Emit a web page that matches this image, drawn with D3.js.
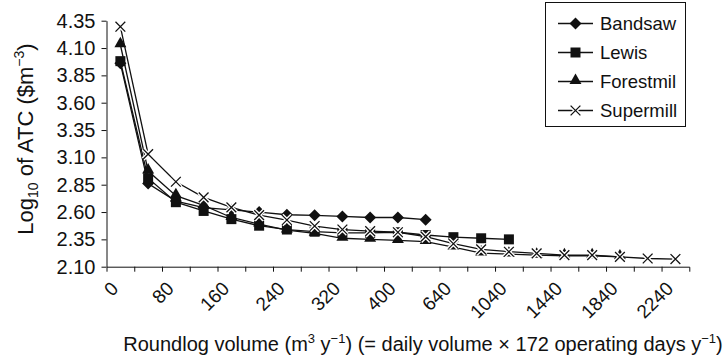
<!DOCTYPE html>
<html>
<head>
<meta charset="utf-8">
<script src="https://cdn.jsdelivr.net/npm/d3@7"></script>
<style>
  body { margin: 0; background: #fff; }
  svg { font-family: 'Liberation Sans', Arial, sans-serif; }
</style>
</head>
<body>
<svg id="chart" width="725" height="363"></svg>
<script>
const categories = ['0', '40', '80', '120', '160', '200', '240', '280', '320', '360', '400',
  '520', '640', '840', '1040', '1240', '1440', '1640', '1840', '2040', '2240'];
const labelled = ['0', '80', '160', '240', '320', '400', '640', '1040', '1440', '1840', '2240'];
const yTicks = [2.10, 2.35, 2.60, 2.85, 3.10, 3.35, 3.60, 3.85, 4.10, 4.35];

const bandsaw = [3.96, 2.86, 2.70, 2.64, 2.62, 2.60, 2.575, 2.57, 2.56, 2.55, 2.55, 2.53];
const lewis = [3.98, 2.91, 2.69, 2.61, 2.535, 2.475, 2.44, 2.42, 2.41, 2.41, 2.415, 2.39, 2.37, 2.36, 2.35];
const forestmil = [4.13, 2.975, 2.75, 2.66, 2.55, 2.49, 2.435, 2.405, 2.36, 2.35, 2.34, 2.33,
  2.28, 2.225, 2.215, 2.205, 2.2, 2.2, 2.19];
const supermill = [4.295, 3.13, 2.877, 2.734, 2.643, 2.572, 2.527, 2.472, 2.44, 2.425, 2.415, 2.375,
  2.31, 2.258, 2.237, 2.222, 2.206, 2.206, 2.19, 2.175, 2.17];

const seriesNames = ['Bandsaw', 'Lewis', 'Forestmil', 'Supermill'];
const seriesValues = [bandsaw, lewis, forestmil, supermill];

const margin = { top: 20.7, left: 106.5 };
const width = 582.8;
const height = 246;
const fs = 20;

const svg = d3.select('#chart');
const g = svg.append('g').attr('transform', `translate(${margin.left},${margin.top})`);

const x = d3.scaleBand().domain(categories).range([0, width]);
const y = d3.scaleLinear().domain([2.10, 4.35]).range([height, 0]);

// y axis
const yAxis = g.append('g')
  .call(d3.axisLeft(y).tickValues(yTicks).tickFormat(d3.format('.2f')).tickSize(5).tickSizeOuter(0).tickPadding(6));
yAxis.selectAll('text').attr('font-size', fs).attr('fill', '#111').attr('font-family', null);
yAxis.selectAll('line, path').attr('stroke', '#111');

// x axis: labels at band centres, ticks at band boundaries
const xAxis = g.append('g')
  .attr('transform', `translate(0,${height})`)
  .call(d3.axisBottom(x).tickSize(0).tickSizeOuter(5).tickFormat(() => ''));
xAxis.select('path').attr('stroke', '#111');

xAxis.selectAll('.bound')
  .data(categories.slice(1))
  .join('line')
  .attr('class', 'bound')
  .attr('x1', (d) => x(d) + 0.5)
  .attr('x2', (d) => x(d) + 0.5)
  .attr('y1', 0)
  .attr('y2', 5)
  .attr('stroke', '#111');

xAxis.selectAll('.xlab')
  .data(labelled)
  .join('text')
  .attr('class', 'xlab')
  .attr('transform', (d) => `translate(${x(d) + x.bandwidth() / 2 - 1},23) rotate(-45)`)
  .attr('text-anchor', 'end')
  .attr('font-size', 19)
  .attr('fill', '#111')
  .text((d) => d);

// axis titles
const yTitle = svg.append('text')
  .attr('transform', 'translate(33,139) rotate(-90)')
  .attr('text-anchor', 'middle')
  .attr('font-size', 22)
  .attr('fill', '#111');
yTitle.append('tspan').text('Log');
yTitle.append('tspan').attr('font-size', 14).attr('dy', 5).text('10');
yTitle.append('tspan').attr('dy', -5).text(' of ATC ($m');
yTitle.append('tspan').attr('font-size', 14).attr('dy', -9).text('\u22123');
yTitle.append('tspan').attr('dy', 9).text(')');

const xTitle = svg.append('text')
  .attr('x', 423)
  .attr('y', 351)
  .attr('text-anchor', 'middle')
  .attr('font-size', fs)
  .attr('fill', '#111');
xTitle.append('tspan').text('Roundlog volume (m');
xTitle.append('tspan').attr('font-size', 13).attr('dy', -8).text('3');
xTitle.append('tspan').attr('dy', 8).text(' y');
xTitle.append('tspan').attr('font-size', 13).attr('dy', -8).text('\u22121');
xTitle.append('tspan').attr('dy', 8).text(') (= daily volume \u00d7 172 operating days y');
xTitle.append('tspan').attr('font-size', 13).attr('dy', -8).text('\u22121');
xTitle.append('tspan').attr('dy', 8).text(')');

// markers
const markers = {
  Bandsaw: (sel) => sel.append('path')
    .attr('d', d3.symbol(d3.symbolSquare, 72)())
    .attr('transform', 'rotate(45)')
    .attr('fill', '#111'),
  Lewis: (sel) => sel.append('path')
    .attr('d', d3.symbol(d3.symbolSquare, 100)())
    .attr('fill', '#111'),
  Forestmil: (sel) => sel.append('path')
    .attr('d', d3.symbol(d3.symbolTriangle, 62)())
    .attr('transform', 'translate(0,-1)')
    .attr('fill', '#111'),
  Supermill: (sel) => {
    const p = d3.symbol(d3.symbolX, 64)();
    sel.append('path').attr('d', p).attr('fill', 'none').attr('stroke', '#fff').attr('stroke-width', 4);
    sel.append('path').attr('d', p).attr('fill', 'none').attr('stroke', '#111').attr('stroke-width', 1.3);
  }
};

const line = d3.line()
  .x((d, i) => x(categories[i]) + x.bandwidth() / 2)
  .y((d) => y(d));

const series = g.selectAll('.series')
  .data(seriesNames.map((name, k) => ({ name, values: seriesValues[k] })))
  .join('g')
  .attr('class', 'series');

series.append('path')
  .attr('fill', 'none')
  .attr('stroke', '#111')
  .attr('stroke-width', 1.3)
  .attr('d', (d) => line(d.values));

series.each(function (s) {
  d3.select(this).selectAll('.pt')
    .data(s.values)
    .join('g')
    .attr('class', 'pt')
    .attr('transform', (d, i) => `translate(${x(categories[i]) + x.bandwidth() / 2},${y(d)})`)
    .each(function () { markers[s.name](d3.select(this)); });
});

// legend
const legend = svg.append('g');
legend.append('rect')
  .attr('x', 545.5).attr('y', 2.5)
  .attr('width', 140).attr('height', 124)
  .attr('fill', '#fff')
  .attr('stroke', '#111');

const items = legend.selectAll('.item')
  .data(seriesNames)
  .join('g')
  .attr('class', 'item')
  .attr('transform', (d, i) => `translate(0,${23.5 + i * 29})`);

items.append('line')
  .attr('x1', 558).attr('x2', 593)
  .attr('stroke', '#111').attr('stroke-width', 1.3);
items.append('g')
  .attr('transform', 'translate(575.5,0)')
  .each(function (d) { markers[d](d3.select(this)); });
items.append('text')
  .attr('x', 600)
  .attr('dy', '0.35em')
  .attr('font-size', 18.5)
  .attr('fill', '#111')
  .text((d) => d);
</script>
</body>
</html>
